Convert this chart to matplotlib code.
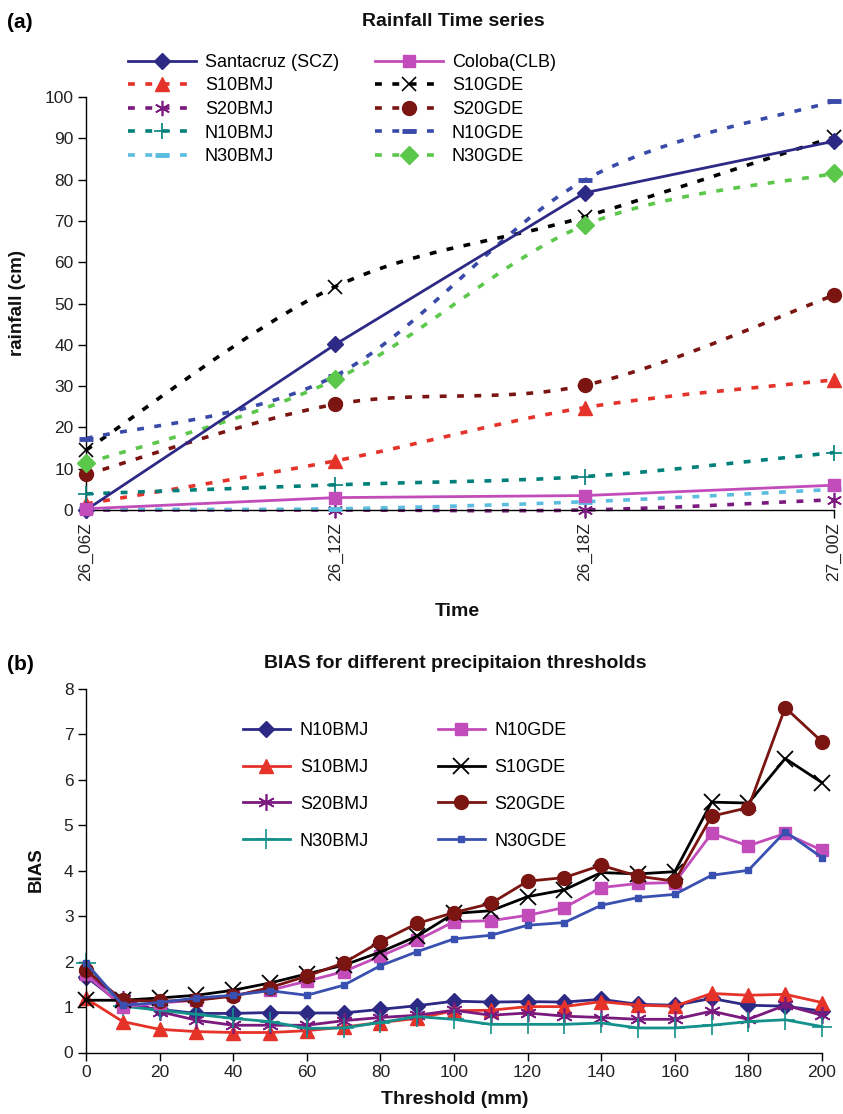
import numpy as np
import matplotlib
matplotlib.use('Agg')
import matplotlib.pyplot as plt
from matplotlib.path import Path
from matplotlib.patches import PathPatch
from matplotlib.lines import Line2D

plt.rcParams['font.family'] = ['Liberation Sans', 'DejaVu Sans']

# ---------------- data: panel (a) ----------------
times = ['26_06Z', '26_12Z', '26_18Z', '27_00Z']
santacruz = [0.0, 40.1, 76.8, 89.3]
coloba = [0.3, 3.0, 3.5, 6.0]
s10bmj_a = [1.5, 11.9, 24.8, 31.5]
s10gde_a = [14.5, 54.1, 71.0, 90.3]
s20bmj_a = [0.0, 0.0, 0.0, 2.5]
s20gde_a = [8.6, 25.6, 30.2, 52.0]
n10bmj_a = [3.9, 6.1, 8.1, 13.9]
n10gde_a = [17.3, 32.5, 79.9, 99.0]
n30bmj_a = [0.2, 0.3, 2.0, 5.0]
n30gde_a = [11.3, 31.6, 69.0, 81.5]

# ---------------- data: panel (b) ----------------
thresholds = [0, 10, 20, 30, 40, 50, 60, 70, 80, 90, 100,
              110, 120, 130, 140, 150, 160, 170, 180, 190, 200]
n10bmj_b = [1.67, 1.04, 0.95, 0.86, 0.86, 0.88, 0.87, 0.87, 0.95, 1.03, 1.13,
            1.11, 1.12, 1.11, 1.17, 1.06, 1.04, 1.19, 1.04, 1.02, 0.91]
s10bmj_b = [1.19, 0.68, 0.51, 0.46, 0.44, 0.44, 0.48, 0.56, 0.66, 0.75, 0.92,
            0.93, 1.01, 1.01, 1.12, 1.04, 1.02, 1.30, 1.26, 1.28, 1.10]
s20bmj_b = [1.70, 1.18, 0.90, 0.71, 0.60, 0.60, 0.60, 0.70, 0.77, 0.82, 0.93,
            0.82, 0.87, 0.80, 0.77, 0.73, 0.73, 0.91, 0.73, 1.04, 0.82]
n30bmj_b = [1.96, 1.02, 0.93, 0.84, 0.75, 0.68, 0.53, 0.54, 0.66, 0.79, 0.73,
            0.62, 0.62, 0.62, 0.65, 0.54, 0.54, 0.60, 0.68, 0.72, 0.57]
n10gde_b = [1.72, 1.00, 1.09, 1.15, 1.26, 1.37, 1.57, 1.78, 2.12, 2.47, 2.88,
            2.90, 3.02, 3.19, 3.63, 3.72, 3.74, 4.82, 4.55, 4.82, 4.45]
s10gde_b = [1.15, 1.15, 1.20, 1.26, 1.37, 1.53, 1.73, 1.92, 2.21, 2.56, 3.06,
            3.12, 3.43, 3.58, 3.96, 3.93, 3.98, 5.51, 5.49, 6.47, 5.94]
s20gde_b = [1.81, 1.15, 1.13, 1.15, 1.24, 1.43, 1.68, 1.97, 2.44, 2.84, 3.08,
            3.28, 3.77, 3.85, 4.12, 3.88, 3.77, 5.20, 5.39, 7.59, 6.84]
n30gde_b = [1.97, 1.04, 1.10, 1.20, 1.26, 1.36, 1.26, 1.48, 1.91, 2.22, 2.50,
            2.58, 2.80, 2.86, 3.24, 3.41, 3.48, 3.90, 4.01, 4.86, 4.29]

# ---------------- colours ----------------
C_NAVY = '#2D2A86'
C_PINK = '#C24CBA'
C_RED = '#E5332A'
C_BLACK = '#000000'
C_PURPLE = '#7B1A7E'
C_DRED = '#7A1512'
C_TEAL = '#00807A'
C_BLUE = '#3A4AA8'
C_LBLUE = '#5BBDE0'
C_GREEN = '#5CC84B'
ASTER = (6, 2, 0)

W, H = 843, 1114
fig = plt.figure(figsize=(W / 100, H / 100), dpi=100)


def fx(px):
    return px / W


def fy(py):
    return 1 - py / H


ax1 = fig.add_axes([fx(86), fy(510), fx(834 - 86), (510 - 97) / H])
ax2 = fig.add_axes([fx(86), fy(1052.5), fx(822 - 86), (1052.5 - 689) / H])

DASH = (0, (1.9, 2.9))


def smooth_path(xs, ys):
    xs = np.asarray(xs, float)
    ys = np.asarray(ys, float)
    pts = np.column_stack([xs, ys])
    n = len(pts)
    verts = [pts[0]]
    codes = [Path.MOVETO]
    for i in range(n - 1):
        p0 = pts[max(i - 1, 0)]
        p1 = pts[i]
        p2 = pts[i + 1]
        p3 = pts[min(i + 2, n - 1)]
        c1 = p1 + (p2 - p0) / 6.0
        c2 = p2 - (p3 - p1) / 6.0
        verts += [c1, c2, p2]
        codes += [Path.CURVE4] * 3
    return Path(verts, codes)


xa = np.arange(len(times))

series_a = [
    # label, data, color, marker, ms, mew, dashed
    ('Santacruz (SCZ)', santacruz, C_NAVY, 'D', 8, 1, False),
    ('S10BMJ', s10bmj_a, C_RED, '^', 10, 1, True),
    ('S20BMJ', s20bmj_a, C_PURPLE, ASTER, 11, 1.2, True),
    ('N10BMJ', n10bmj_a, C_TEAL, '+', 12, 1.2, True),
    ('N30BMJ', n30bmj_a, C_LBLUE, '_', 10, 3.5, True),
    ('Coloba(CLB)', coloba, C_PINK, 's', 8, 1, False),
    ('S10GDE', s10gde_a, C_BLACK, 'x', 10, 1.2, True),
    ('S20GDE', s20gde_a, C_DRED, 'o', 10, 1, True),
    ('N10GDE', n10gde_a, C_BLUE, '_', 10, 3.5, True),
    ('N30GDE', n30gde_a, C_GREEN, 'D', 9, 1, True),
]

handles_a = []
for label, data, col, mk, ms, mew, dashed in series_a:
    if dashed:
        patch = PathPatch(smooth_path(xa, data), fill=False, edgecolor=col,
                          lw=2.6, linestyle=DASH, capstyle='butt', clip_on=False)
        ax1.add_patch(patch)
        ax1.plot(xa, data, linestyle='none', marker=mk, ms=ms, mew=mew,
                 color=col, mfc=col, mec=col, clip_on=False, zorder=3)
        h = Line2D([], [], color=col, lw=2.6, linestyle=DASH, marker=mk,
                   ms=ms, mew=mew, mfc=col, mec=col)
    else:
        ax1.plot(xa, data, '-', lw=2.0, marker=mk, ms=ms, mew=mew, color=col,
                 clip_on=False, zorder=4)
        h = Line2D([], [], color=col, lw=2.0, marker=mk, ms=ms, mew=mew)
    handles_a.append((h, label))

ax1.set_xlim(0, 3)
ax1.set_ylim(0, 100)
ax1.set_xticks(xa)
ax1.set_xticklabels(times, rotation=90)
ax1.set_yticks(np.arange(0, 101, 10))

leg1 = fig.legend([h for h, _ in handles_a], [l for _, l in handles_a],
                  loc='upper left', bbox_to_anchor=(fx(128), fy(54)),
                  ncol=2, frameon=False, fontsize=13, handlelength=3.75,
                  handletextpad=0.5, columnspacing=2.0, labelspacing=0.36,
                  borderpad=0, borderaxespad=0)

# ---------------- panel (b) ----------------
series_b = [
    ('N10BMJ', n10bmj_b, C_NAVY, 'D', 8, 1),
    ('S10BMJ', s10bmj_b, C_RED, '^', 10, 1),
    ('S20BMJ', s20bmj_b, C_PURPLE, ASTER, 12, 1.2),
    ('N30BMJ', n30bmj_b, '#13918A', '+', 14, 1.2),
    ('N10GDE', n10gde_b, C_PINK, 's', 8, 1),
    ('S10GDE', s10gde_b, C_BLACK, 'x', 11, 1.3),
    ('S20GDE', s20gde_b, C_DRED, 'o', 10, 1),
    ('N30GDE', n30gde_b, '#3A50B0', 's', 4, 1),
]
handles_b = []
for label, data, col, mk, ms, mew in series_b:
    ln, = ax2.plot(thresholds, data, '-', lw=2.0, color=col, marker=mk, ms=ms,
                   mew=mew, clip_on=False, label=label)
    handles_b.append(ln)

ax2.set_xlim(0, 200)
ax2.set_ylim(0, 8)
ax2.set_xticks(np.arange(0, 201, 20))
ax2.set_yticks(np.arange(0, 9, 1))

leg2 = fig.legend(handles_b, [h.get_label() for h in handles_b],
                  loc='upper left', bbox_to_anchor=(fx(243), fy(722)),
                  ncol=2, frameon=False, fontsize=13, handlelength=2.6,
                  handletextpad=0.55, columnspacing=3.8, labelspacing=1.1,
                  borderpad=0, borderaxespad=0)

for ax in (ax1, ax2):
    for s in ('top', 'right'):
        ax.spines[s].set_visible(False)
    for s in ('left', 'bottom'):
        ax.spines[s].set_linewidth(1.0)
    ax.tick_params(direction='out', length=6, width=1, labelsize=12.5,
                   pad=3, colors='black', labelcolor='#222222')

# ---------------- texts ----------------
fig.text(fx(7), fy(22), '(a)', fontsize=15, weight='bold', ha='left', va='center')
fig.text(fx(453), fy(22), 'Rainfall Time series', fontsize=14, weight='bold',
         ha='center', va='center', color='#111111')
fig.text(fx(457), fy(611), 'Time', fontsize=14, weight='bold', ha='center',
         va='center', color='#111111')
fig.text(fx(18), fy(303), 'rainfall (cm)', fontsize=13.5, weight='bold',
         rotation=90, ha='center', va='center', color='#111111')

fig.text(fx(7), fy(664), '(b)', fontsize=15, weight='bold', ha='left', va='center')
fig.text(fx(455), fy(664), 'BIAS for different precipitaion thresholds',
         fontsize=14, weight='bold', ha='center', va='center', color='#111111')
fig.text(fx(455), fy(1100), 'Threshold (mm)', fontsize=14, weight='bold',
         ha='center', va='center', color='#111111')
fig.text(fx(36), fy(870), 'BIAS', fontsize=13.5, weight='bold', rotation=90,
         ha='center', va='center', color='#111111')

fig.savefig('out.png', dpi=100)
